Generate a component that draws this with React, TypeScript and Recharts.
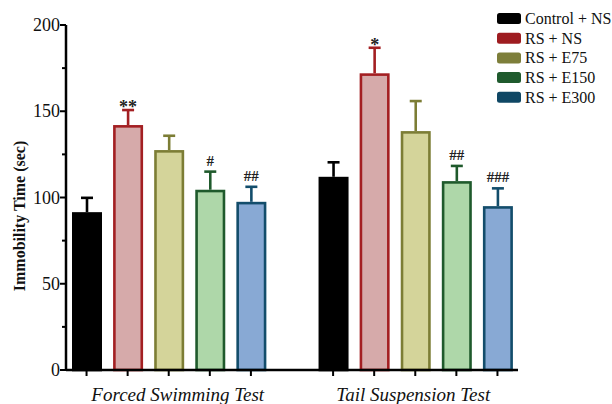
import React from 'react';
import { BarChart, Bar, XAxis, YAxis, Legend, Label } from 'recharts';

const tests = ['Forced Swimming Test', 'Tail Suspension Test'];
const groups = ['Control + NS', 'RS + NS', 'RS + E75', 'RS + E150', 'RS + E300'];
const fstMeans = [91.5, 142, 127.5, 104.5, 97.5];
const fstErr = [8.3, 8.7, 8.3, 10.5, 8.7];
const fstMarks = ['', '**', '', '#', '##'];
const tstMeans = [112, 172, 138.5, 109.5, 95];
const tstErr = [8.4, 14.8, 17.4, 8.8, 10.3];
const tstMarks = ['', '*', '', '##', '###'];
const yTicks = [0, 25, 50, 75, 100, 125, 150, 175, 200];

const strokeColors = ['#000000', '#a31f22', '#7c7d35', '#1f5a2c', '#134d6b'];
const fillColors = ['#000000', '#d6aaaa', '#d4d49a', '#aed7a9', '#88a9d4'];
const legendColors = ['#000000', '#9e1c20', '#7d7e3a', '#1f5a2d', '#0f4764'];

const makeRows = (t: number, means: number[], errs: number[], marks: string[]) =>
  means.map((m, i) => ({ slot: `${t}-${i}`, test: t, group: i, mean: m, err: errs[i], mark: marks[i] }));

const data = [
  ...makeRows(0, fstMeans, fstErr, fstMarks),
  { slot: 'gap', test: -1, group: -1, mean: null as any, err: 0, mark: '' },
  ...makeRows(1, tstMeans, tstErr, tstMarks),
];

const SERIF = "'Liberation Serif', 'DejaVu Serif', serif";
const serifStyle = (extra: any = {}) => ({ fontFamily: SERIF, ...extra });

const BarShape = (props: any) => {
  const { x, y, width, height, payload } = props;
  if (payload == null || payload.mean == null || payload.group < 0) return null;
  const g = payload.group;
  const sc = strokeColors[g];
  const scale = height / payload.mean;
  const errTop = y - payload.err * scale;
  const cx = x + width / 2;
  const isStar = payload.mark.startsWith('*');
  return (
    <g>
      <line x1={cx} x2={cx} y1={y} y2={errTop} stroke={sc} strokeWidth={2.6} />
      <line x1={cx - 6} x2={cx + 6} y1={errTop} y2={errTop} stroke={sc} strokeWidth={2.6} />
      <rect x={x + 1.3} y={y + 1.3} width={width - 2.6} height={height - 1.3} fill={fillColors[g]} stroke={sc} strokeWidth={2.6} />
      {payload.mark ? (
        <text x={cx} y={isStar ? errTop + 3 : errTop - 6} textAnchor="middle" style={serifStyle({ fontSize: isStar ? 18 : 15, fontWeight: 'bold' })} fill="#222">
          {payload.mark}
        </text>
      ) : null}
    </g>
  );
};

const XTick = (props: any) => {
  const { x, y, index } = props;
  const row = data[index];
  const isGap = !row || row.group < 0;
  let label: string | null = null;
  let dx = 0;
  if (row && row.group === 2) {
    label = tests[row.test];
    dx = row.test === 0 ? 9 : -2;
  }
  return (
    <g>
      {!isGap && <line x1={x} x2={x} y1={y} y2={y + 6} stroke="#000" strokeWidth={2} />}
      {label && (
        <text x={x + dx} y={y + 31} textAnchor="middle" style={serifStyle({ fontStyle: 'italic', fontSize: 19 })} fill="#111">
          {label}
        </text>
      )}
    </g>
  );
};

const YTick = (props: any) => {
  const { x, y, payload } = props;
  const v = payload.value;
  const major = v % 50 === 0;
  return (
    <g>
      <line x1={x - (major ? 6 : 4)} x2={x} y1={y} y2={y} stroke="#000" strokeWidth={2} />
      {major && (
        <text x={x - 6} y={y + 6} textAnchor="end" style={serifStyle({ fontSize: 18 })} fill="#111">
          {v}
        </text>
      )}
    </g>
  );
};

const LegendContent = () => (
  <svg width={115} height={100}>
    {groups.map((gname, i) => (
      <g key={gname}>
        <rect x={0} y={2 + i * 19.7} width={24} height={11} rx={2.5} fill={legendColors[i]} />
        <text x={28} y={13 + i * 19.7} style={serifStyle({ fontSize: 16 })} fill="#111">
          {gname}
        </text>
      </g>
    ))}
  </svg>
);

export default function App() {
  return (
    <div style={{ position: 'absolute', left: 0, top: 0, width: 612, height: 404, background: '#fff', fontFamily: SERIF }}>
      <BarChart width={612} height={404} data={data} margin={{ top: 25, right: 94, left: 6, bottom: 0 }} barCategoryGap={0}>
        <XAxis
          dataKey="slot"
          height={34}
          interval={0}
          tickSize={0}
          tickMargin={0}
          tickLine={false}
          tick={<XTick />}
          axisLine={{ stroke: '#000', strokeWidth: 2.5 }}
        />
        <YAxis
          width={60}
          domain={[0, 200]}
          ticks={yTicks}
          interval={0}
          tickSize={0}
          tickMargin={0}
          tickLine={false}
          tick={<YTick />}
          axisLine={{ stroke: '#000', strokeWidth: 2.5 }}
        >
          <Label
            content={() => (
              <text
                x={0}
                y={0}
                transform="translate(25 216) rotate(-90)"
                textAnchor="middle"
                style={serifStyle({ fontWeight: 'bold', fontSize: 16 })}
                fill="#111"
              >
                Immobility Time (sec)
              </text>
            )}
          />
        </YAxis>
        <Legend
          layout="horizontal"
          verticalAlign="middle"
          align="center"
          content={<LegendContent />}
          wrapperStyle={{ position: 'absolute', left: 497, top: 11, width: 115, height: 100 }}
        />
        <Bar dataKey="mean" barSize={30} isAnimationActive={false} shape={<BarShape />} />
      </BarChart>
    </div>
  );
}
